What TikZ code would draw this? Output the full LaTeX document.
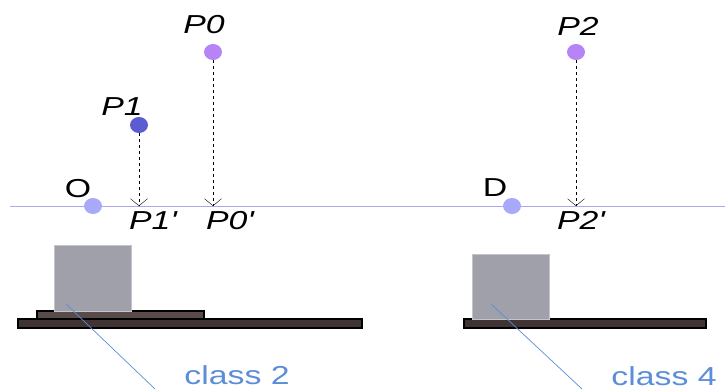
\documentclass[tikz,border=0pt]{standalone}
\usepackage{fontspec}
\setmainfont{Liberation Sans}
\usetikzlibrary{arrows.meta,positioning,shapes.geometric}
\definecolor{axisblue}{HTML}{A8A8F5}
\definecolor{refdot}{HTML}{A9A9FA}
\definecolor{lowdot}{HTML}{5B5BD2}
\definecolor{highdot}{HTML}{B784F8}
\definecolor{blockgray}{HTML}{A0A0AB}
\definecolor{blockedge}{HTML}{C4C4CC}
\definecolor{platebrown}{HTML}{5A4B4B}
\definecolor{basebrown}{HTML}{3F3333}
\definecolor{classblue}{HTML}{5B8DD8}
\tikzset{
  dot/.style={ellipse, inner sep=0pt, minimum width=18pt, minimum height=16pt},
  ptlabel/.style={anchor=base, inner sep=0pt, xscale=1.3, font=\fontsize{26}{30}\selectfont\itshape},
  reflabel/.style={anchor=base, inner sep=0pt, xscale=1.3, font=\fontsize{26}{30}\selectfont},
  classlabel/.style={anchor=base, inner sep=0pt, xscale=1.3, text=classblue, font=\fontsize{26}{30}\selectfont},
  proj/.style={-{Straight Barb[length=7pt,width=17pt]}, dashed, thin, draw=black},
  block/.style={draw=blockedge, fill=blockgray, line width=0.8pt},
  plate/.style={draw=black, fill=platebrown, line width=1.2pt},
  base/.style={draw=black, fill=basebrown, line width=1.2pt},
  leader/.style={draw=classblue, line width=0.7pt}
}
\newcommand{\prm}{\textquotesingle}
\begin{document}
\begin{tikzpicture}[x=1pt, y=-1pt]
  \useasboundingbox (0,0) rectangle (725,389);

  % axis line
  \coordinate (axisL) at (10,206);
  \coordinate (axisR) at (725,206);
  \draw[axisblue, line width=1pt] (axisL) -- (axisR);

  % points
  \node[dot, fill=refdot] (o) at (93,206) {};
  \node[dot, fill=refdot] (d) at (512,206) {};
  \node[dot, fill=lowdot] (p1) at (139,125) {};
  \node[dot, fill=highdot] (p0) at (213,52) {};
  \node[dot, fill=highdot] (p2) at (576,52) {};

  % projections on the axis
  \coordinate (p1proj) at (139,206);
  \coordinate (p0proj) at (213,206);
  \coordinate (p2proj) at (576,206);
  \draw[proj] (p1) -- (p1proj);
  \draw[proj] (p0) -- (p0proj);
  \draw[proj] (p2) -- (p2proj);

  % labels
  \node[reflabel] (olab) at (78,197) {O};
  \node[reflabel] (dlab) at (495,196) {D};
  \node[ptlabel] (p1lab) at (122,115) {P1};
  \node[ptlabel] (p0lab) at (204,33) {P0};
  \node[ptlabel] (p2lab) at (578,35) {P2};
  \node[ptlabel] (p1plab) at (153,229) {P1\prm};
  \node[ptlabel] (p0plab) at (230,229) {P0\prm};
  \node[ptlabel] (p2plab) at (581,229) {P2\prm};

  % class 2 setup
  \draw[base] (18,319) rectangle (362,328);
  \draw[plate] (37,311) rectangle (204,319);
  \draw[block] (54,245) rectangle (131,311);
  \coordinate (leftin) at (66,304);
  \coordinate (leftend) at (155,389);
  \draw[leader] (leftin) -- (leftend);
  \node[classlabel] (class2) at (237,384) {class 2};

  % class 4 setup
  \draw[base] (464,319) rectangle (706,328);
  \draw[block] (472,254) rectangle (549,319);
  \coordinate (rightin) at (491,304);
  \coordinate (rightend) at (582,389);
  \draw[leader] (rightin) -- (rightend);
  \node[classlabel] (class4) at (664,385) {class 4};
\end{tikzpicture}
\end{document}
